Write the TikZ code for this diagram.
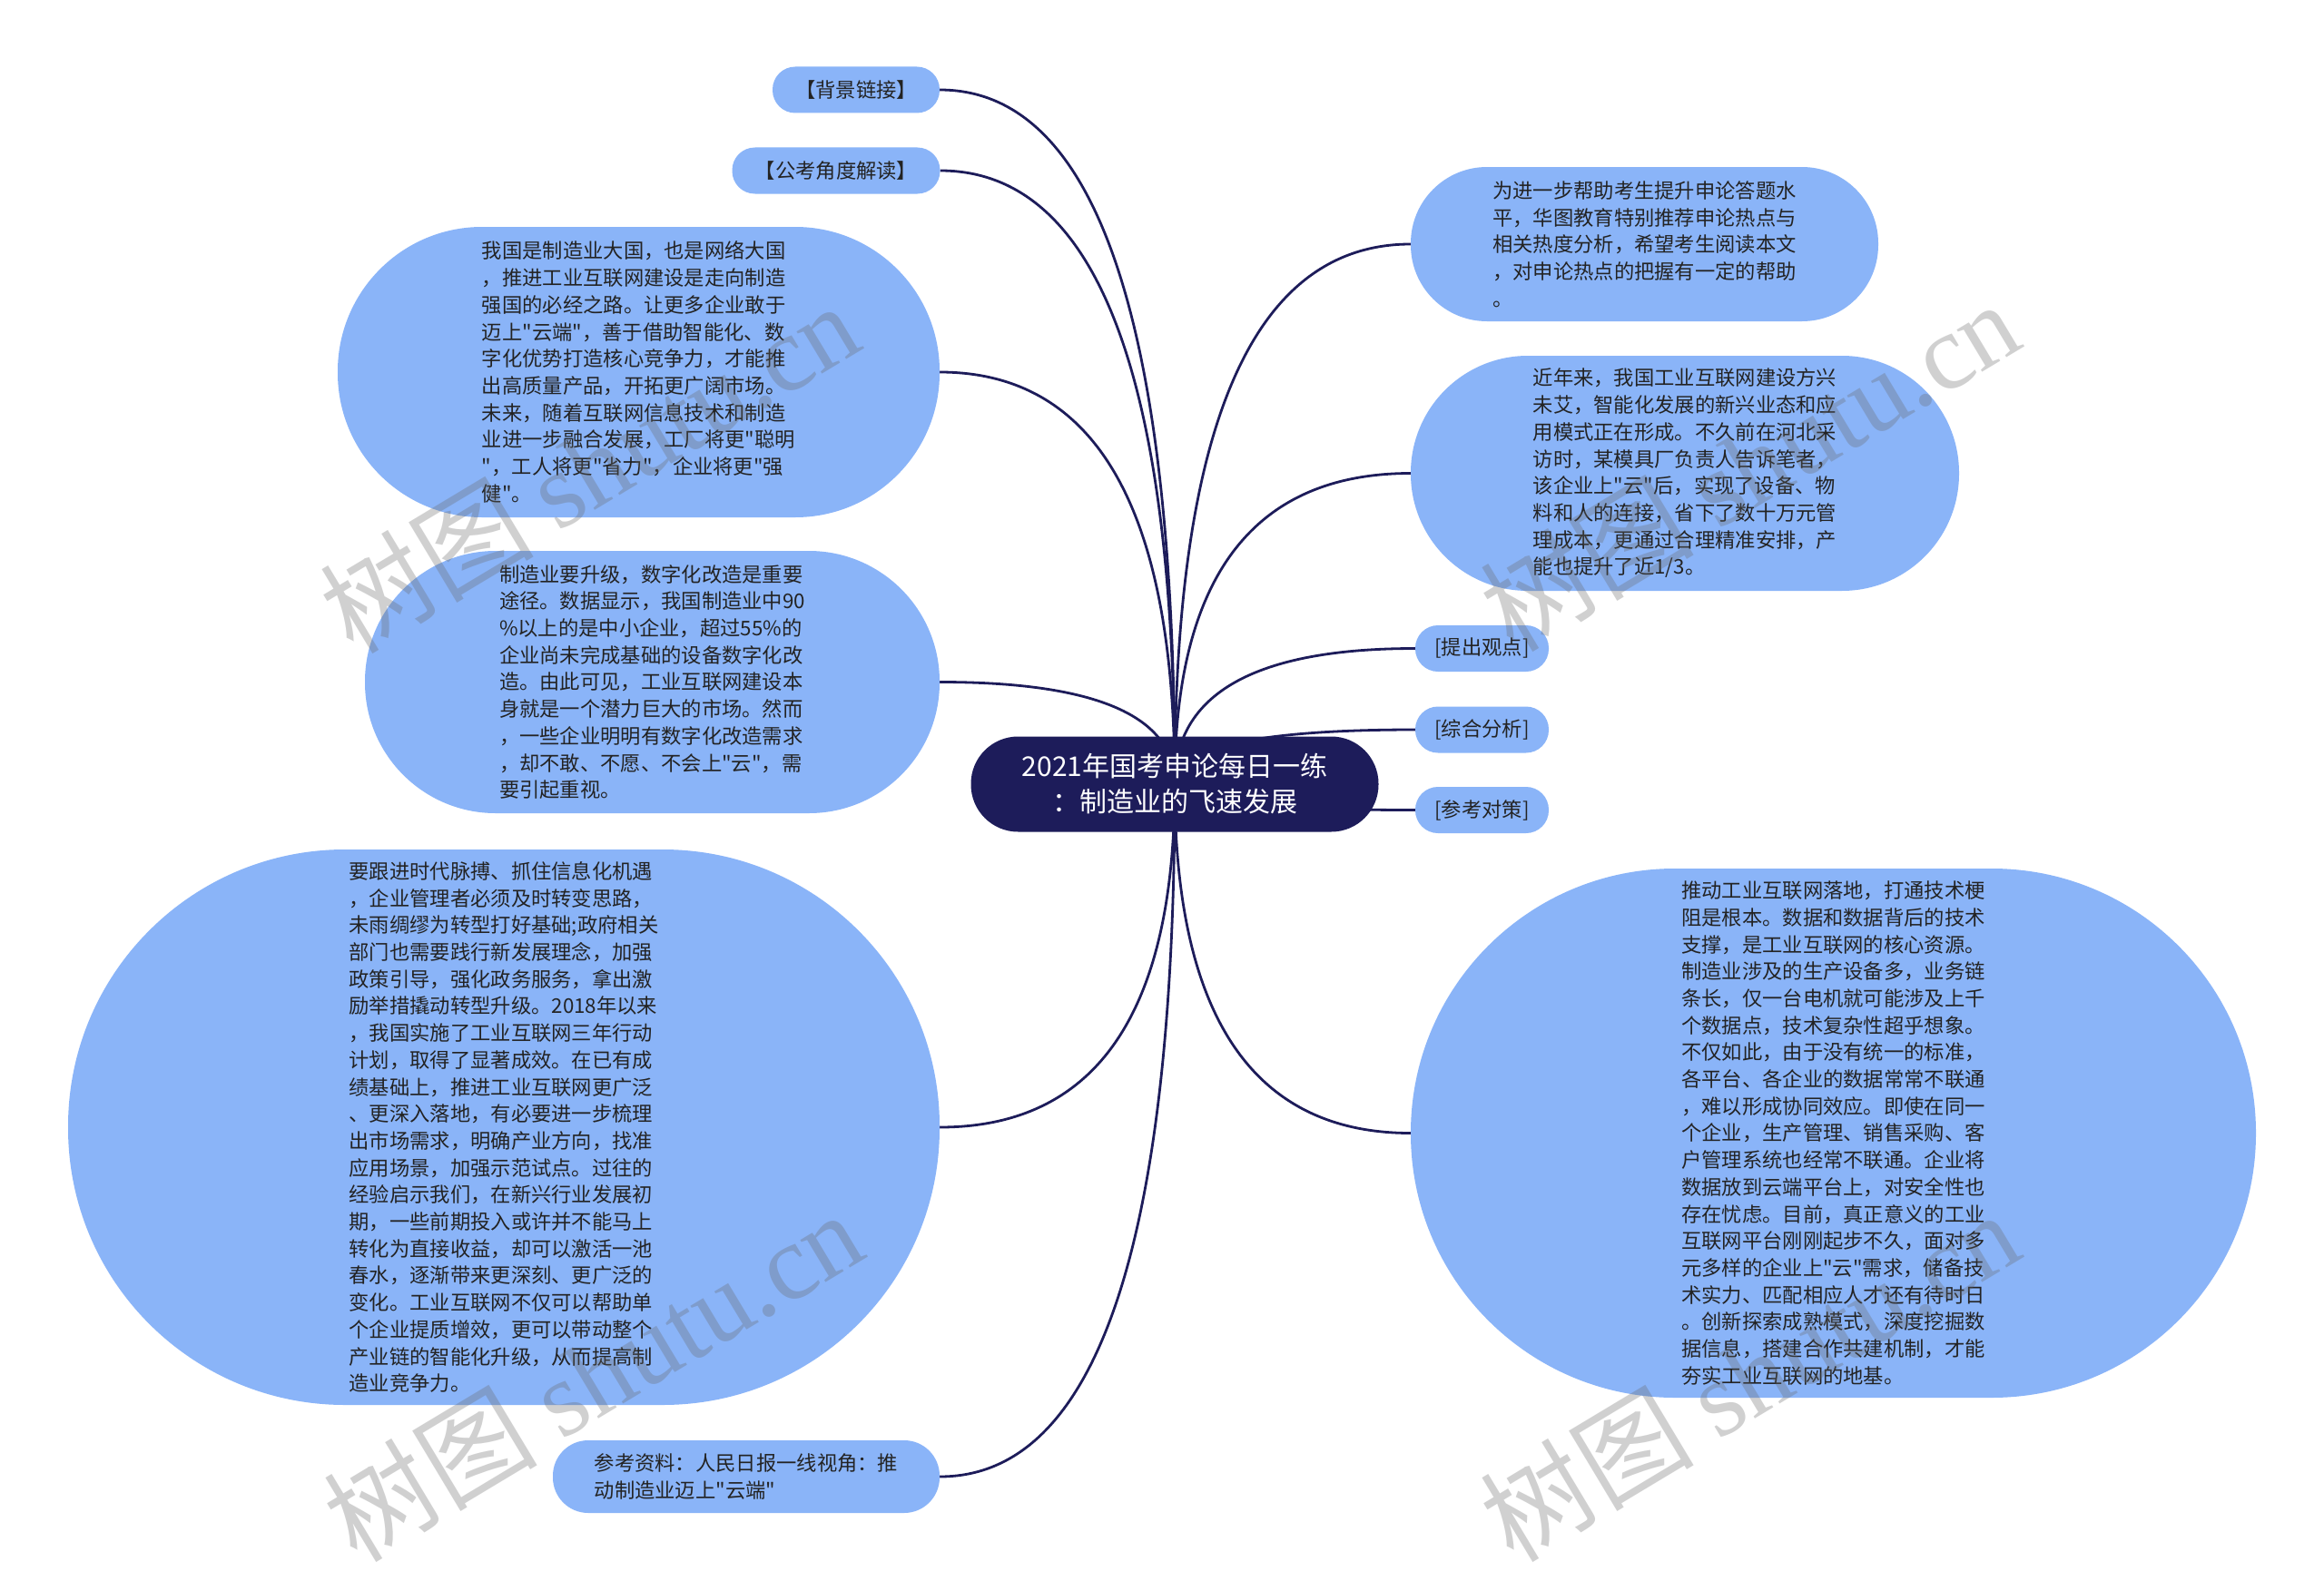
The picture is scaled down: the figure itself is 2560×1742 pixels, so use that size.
\documentclass[tikz,border=0pt]{standalone}
\usepackage{fontspec}
\setmainfont{Noto Sans CJK SC}[Ligatures=TeXOff]
\newfontfamily\wmserif{Liberation Serif}
\usetikzlibrary{calc}
\pgfdeclarelayer{bg}
\pgfsetlayers{bg,main}
\definecolor{bubble}{RGB}{138,180,248}
\definecolor{navy}{RGB}{29,28,90}
\definecolor{txt}{RGB}{35,35,35}
\tikzset{
  bub/.style={fill=bubble, text=txt, align=left, inner sep=0pt, font=\fontsize{22.3}{29.7}\selectfont},
  box/.style n args={3}{minimum width=#1pt, minimum height=#2pt, rounded corners=#3pt},
  conn/.style={draw=navy, line width=2.8pt},
  wm/.style={text=black!60, opacity=0.3, rotate=31, inner sep=0pt, font=\fontsize{118}{118}\selectfont}
}
\begin{document}
\begin{tikzpicture}[x=1pt,y=-1pt]
\useasboundingbox (0,0) rectangle (2560,1742);
\begin{pgfonlayer}{bg}
\fill[white] (0,0) rectangle (2560,1742);
\end{pgfonlayer}

% central node
\node[fill=navy, text=white, align=center, inner sep=0pt, box={449}{105}{52}, font=\fontsize{30}{39}\selectfont] (c) at (1294,864) {2021年国考申论每日一练\\：制造业的飞速发展};

% left side
\node[bub, box={184}{51}{25}, align=center] (bgl) at (943,99) {【背景链接】};
\node[bub, box={229}{51}{25}, align=center] (gk) at (921,188) {【公考角度解读】};
\node[bub, box={663}{320}{159}] (L1) at (703.5,410) {我国是制造业大国，也是网络大国\\，推进工业互联网建设是走向制造\\强国的必经之路。让更多企业敢于\\迈上"云端"，善于借助智能化、数\\字化优势打造核心竞争力，才能推\\出高质量产品，开拓更广阔市场。\\未来，随着互联网信息技术和制造\\业进一步融合发展，工厂将更"聪明\\"，工人将更"省力"，企业将更"强\\健"。};
\node[bub, box={633}{289}{144}] (L2) at (718.5,751.5) {制造业要升级，数字化改造是重要\\途径。数据显示，我国制造业中90\\\%以上的是中小企业，超过55\%的\\企业尚未完成基础的设备数字化改\\造。由此可见，工业互联网建设本\\身就是一个潜力巨大的市场。然而\\，一些企业明明有数字化改造需求\\，却不敢、不愿、不会上"云"，需\\要引起重视。};
\node[bub, box={960}{612}{305}] (L3) at (555,1242) {要跟进时代脉搏、抓住信息化机遇\\，企业管理者必须及时转变思路，\\未雨绸缪为转型打好基础;政府相关\\部门也需要践行新发展理念，加强\\政策引导，强化政务服务，拿出激\\励举措撬动转型升级。2018年以来\\，我国实施了工业互联网三年行动\\计划，取得了显著成效。在已有成\\绩基础上，推进工业互联网更广泛\\、更深入落地，有必要进一步梳理\\出市场需求，明确产业方向，找准\\应用场景，加强示范试点。过往的\\经验启示我们，在新兴行业发展初\\期，一些前期投入或许并不能马上\\转化为直接收益，却可以激活一池\\春水，逐渐带来更深刻、更广泛的\\变化。工业互联网不仅可以帮助单\\个企业提质增效，更可以带动整个\\产业链的智能化升级，从而提高制\\造业竞争力。};
\node[bub, box={426}{80}{39}] (ref) at (822,1627) {参考资料：人民日报一线视角：推\\动制造业迈上"云端"};

% right side
\node[bub, box={515}{170}{84}] (R1) at (1811.5,269) {为进一步帮助考生提升申论答题水\\平，华图教育特别推荐申论热点与\\相关热度分析，希望考生阅读本文\\，对申论热点的把握有一定的帮助\\。};
\node[bub, box={604}{259}{129}] (R2) at (1856,521.5) {近年来，我国工业互联网建设方兴\\未艾，智能化发展的新兴业态和应\\用模式正在形成。不久前在河北采\\访时，某模具厂负责人告诉笔者，\\该企业上"云"后，实现了设备、物\\料和人的连接，省下了数十万元管\\理成本，更通过合理精准安排，产\\能也提升了近1/3。};
\node[bub, box={147}{51}{25}, align=center] (p1) at (1632.5,714.5) {[提出观点]};
\node[bub, box={147}{51}{25}, align=center] (p2) at (1632.5,804) {[综合分析]};
\node[bub, box={147}{51}{25}, align=center] (p3) at (1632.5,892.5) {[参考对策]};
\node[bub, box={931}{583}{291}] (R3) at (2019.5,1248.5) {推动工业互联网落地，打通技术梗\\阻是根本。数据和数据背后的技术\\支撑，是工业互联网的核心资源。\\制造业涉及的生产设备多，业务链\\条长，仅一台电机就可能涉及上千\\个数据点，技术复杂性超乎想象。\\不仅如此，由于没有统一的标准，\\各平台、各企业的数据常常不联通\\，难以形成协同效应。即使在同一\\个企业，生产管理、销售采购、客\\户管理系统也经常不联通。企业将\\数据放到云端平台上，对安全性也\\存在忧虑。目前，真正意义的工业\\互联网平台刚刚起步不久，面对多\\元多样的企业上"云"需求，储备技\\术实力、匹配相应人才还有待时日\\。创新探索成熟模式，深度挖掘数\\据信息，搭建合作共建机制，才能\\夯实工业互联网的地基。};

% connectors (quadratic curves from the centre, behind the nodes)
\begin{pgfonlayer}{bg}
\foreach \n in {bgl,gk,L1,L2,L3,ref}{
  \coordinate (k\n) at (c.center |- \n.east);
  \draw[conn] (c.center) .. controls ($(c.center)!0.6667!(k\n)$) and ($(\n.east)!0.6667!(k\n)$) .. (\n.east);
}
\foreach \n in {R1,R2,p1,p2,p3,R3}{
  \coordinate (k\n) at (c.center |- \n.west);
  \draw[conn] (c.center) .. controls ($(c.center)!0.6667!(k\n)$) and ($(\n.west)!0.6667!(k\n)$) .. (\n.west);
}
\end{pgfonlayer}

% watermarks
\node[wm] (w1) at (649,514) {树图 {\wmserif shutu.cn}};
\node[wm] (w2) at (1927,512) {树图 {\wmserif shutu.cn}};
\node[wm] (w3) at (653,1515) {树图 {\wmserif shutu.cn}};
\node[wm] (w4) at (1927,1515) {树图 {\wmserif shutu.cn}};
\end{tikzpicture}
\end{document}
